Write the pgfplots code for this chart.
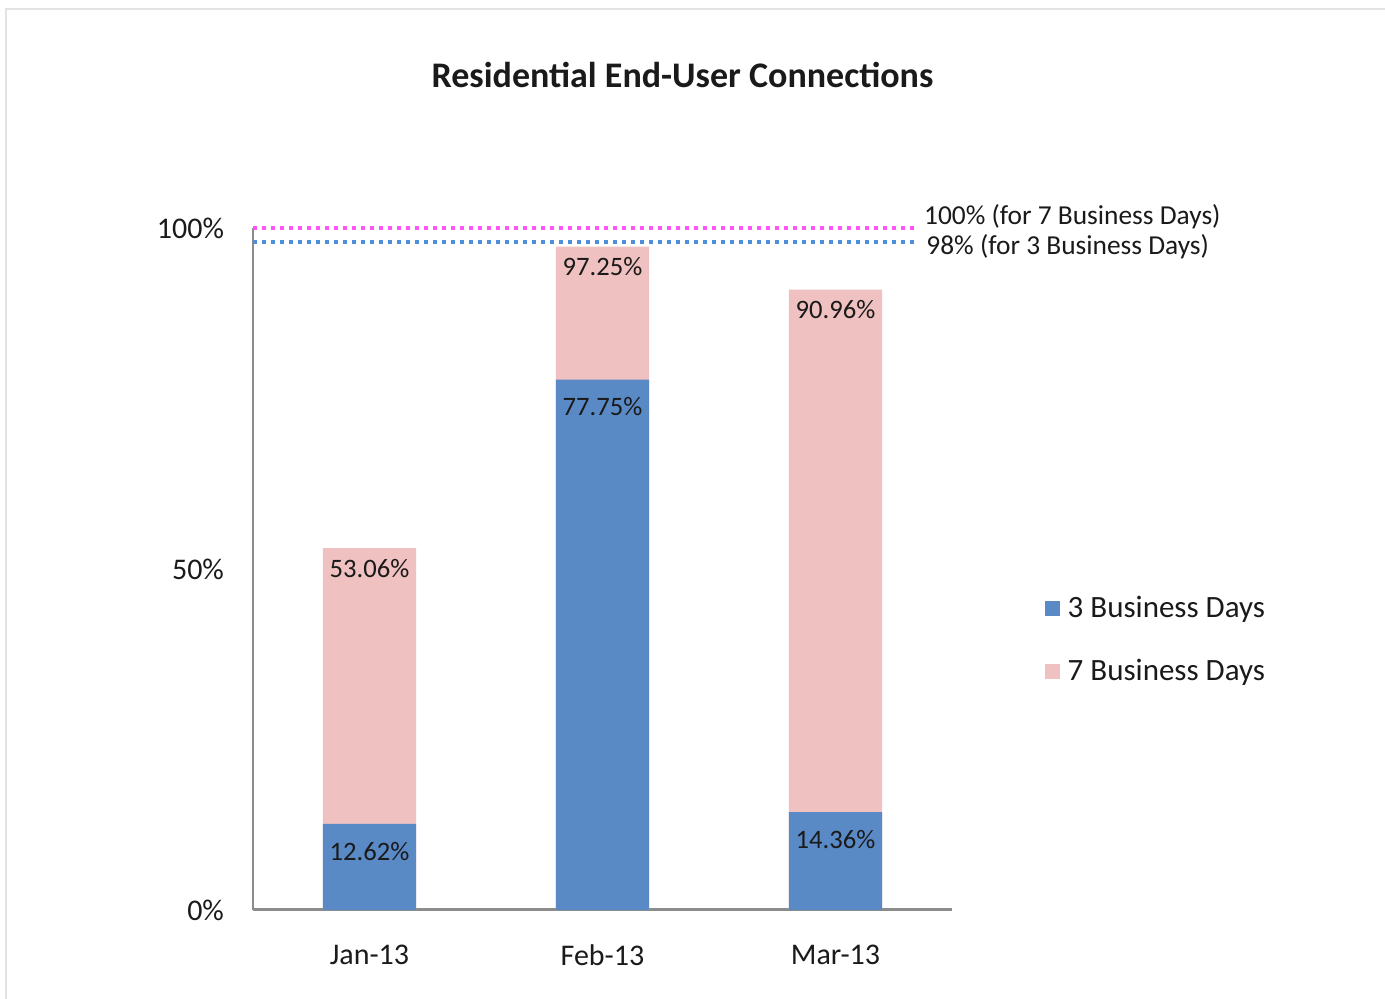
\documentclass[border=0pt]{standalone}
\usepackage{fontspec}
\setmainfont{Carlito}
\usepackage{pgfplots}
\pgfplotsset{compat=1.18}

\definecolor{barblue}{HTML}{5A8AC6}
\definecolor{barpink}{HTML}{EFC1C0}
\definecolor{dotpink}{HTML}{FF55F5}
\definecolor{dotblue}{HTML}{4F8EDC}
\definecolor{txt}{HTML}{1A1A1A}
\definecolor{axgray}{HTML}{8C8C8C}

\begin{document}
\begin{tikzpicture}
% page = 1385 x 999 px at 0.5pt per px, origin at the axis corner
\path[use as bounding box] (-126.5pt,-44.5pt) rectangle (566pt,455pt);
\draw[gray!22, line width=1pt] (-123.5pt,-44.5pt) -- (-123.5pt,450.5pt) -- (566pt,450.5pt);

\begin{axis}[
    scale only axis,
    width=349.5pt, height=341pt,
    xmin=-0.5, xmax=2.5,
    ymin=0, ymax=100,
    clip=false,
    axis x line*=bottom,
    axis y line*=left,
    x axis line style={-, axgray, line width=1.5pt},
    y axis line style={-, axgray, line width=1pt},
    xtick={0,1,2},
    xticklabels={Jan-13, Feb-13, Mar-13},
    ytick={0,50,100},
    yticklabels={0\%, 50\%, 100\%},
    major tick length=0pt,
    tick label style={font=\fontsize{15}{18}\selectfont, text=txt},
    yticklabel style={xshift=-11pt},
    xticklabel style={yshift=-14pt},
    ybar, bar width=0.4, bar shift=0pt,
    nodes near coords={\pgfplotspointmeta\%},
    point meta=explicit symbolic,
    every node near coord/.append style={font=\fontsize{13.3}{15}\selectfont, text=txt, anchor=north},
    reverse legend,
    legend style={at={(1.132,0.396)}, anchor=west, draw=none, fill=none,
        font=\fontsize{15.5}{18}\selectfont, text=txt,
        row sep=15.5pt, inner sep=0pt,
        nodes={inner sep=2pt}},
    legend image code/.code={\fill[#1] (0pt,-3.75pt) rectangle (7.5pt,3.75pt);},
    legend cell align=left,
]

% 7 Business Days (drawn behind)
\addplot[fill=barpink, draw=none,
    every node near coord/.append style={yshift=-2pt}]
coordinates {(0,53.06) [53.06] (1,97.25) [97.25] (2,90.96) [90.96]};

% 3 Business Days
\addplot[fill=barblue, draw=none,
    every node near coord/.append style={yshift=-5.5pt}]
coordinates {(0,12.62) [12.62] (1,77.75) [77.75] (2,14.36) [14.36]};

\legend{\hspace{2pt}7 Business Days, \hspace{2pt}3 Business Days}

% target lines
\addplot[sharp plot, no marks, dotpink, line width=2pt, dash pattern=on 2pt off 2.5pt,
    nodes near coords={}, forget plot]
coordinates {(-0.5,100) (2.35,100)};
\addplot[sharp plot, no marks, dotblue, line width=2pt, dash pattern=on 2pt off 2.5pt,
    nodes near coords={}, forget plot]
coordinates {(-0.5,98) (2.35,98)};

\node[anchor=west, text=txt, font=\fontsize{13.7}{16}\selectfont, inner sep=1pt]
    at (axis cs:2.37,101.7) {100\% (for 7 Business Days)};
\node[anchor=west, text=txt, font=\fontsize{13.7}{16}\selectfont, inner sep=1pt]
    at (axis cs:2.38,97.3) {98\% (for 3 Business Days)};
\end{axis}

\node[font=\bfseries\fontsize{18}{21}\selectfont, text=txt] at (214.75pt,417.5pt)
    {Residential End-User Connections};
\end{tikzpicture}
\end{document}
